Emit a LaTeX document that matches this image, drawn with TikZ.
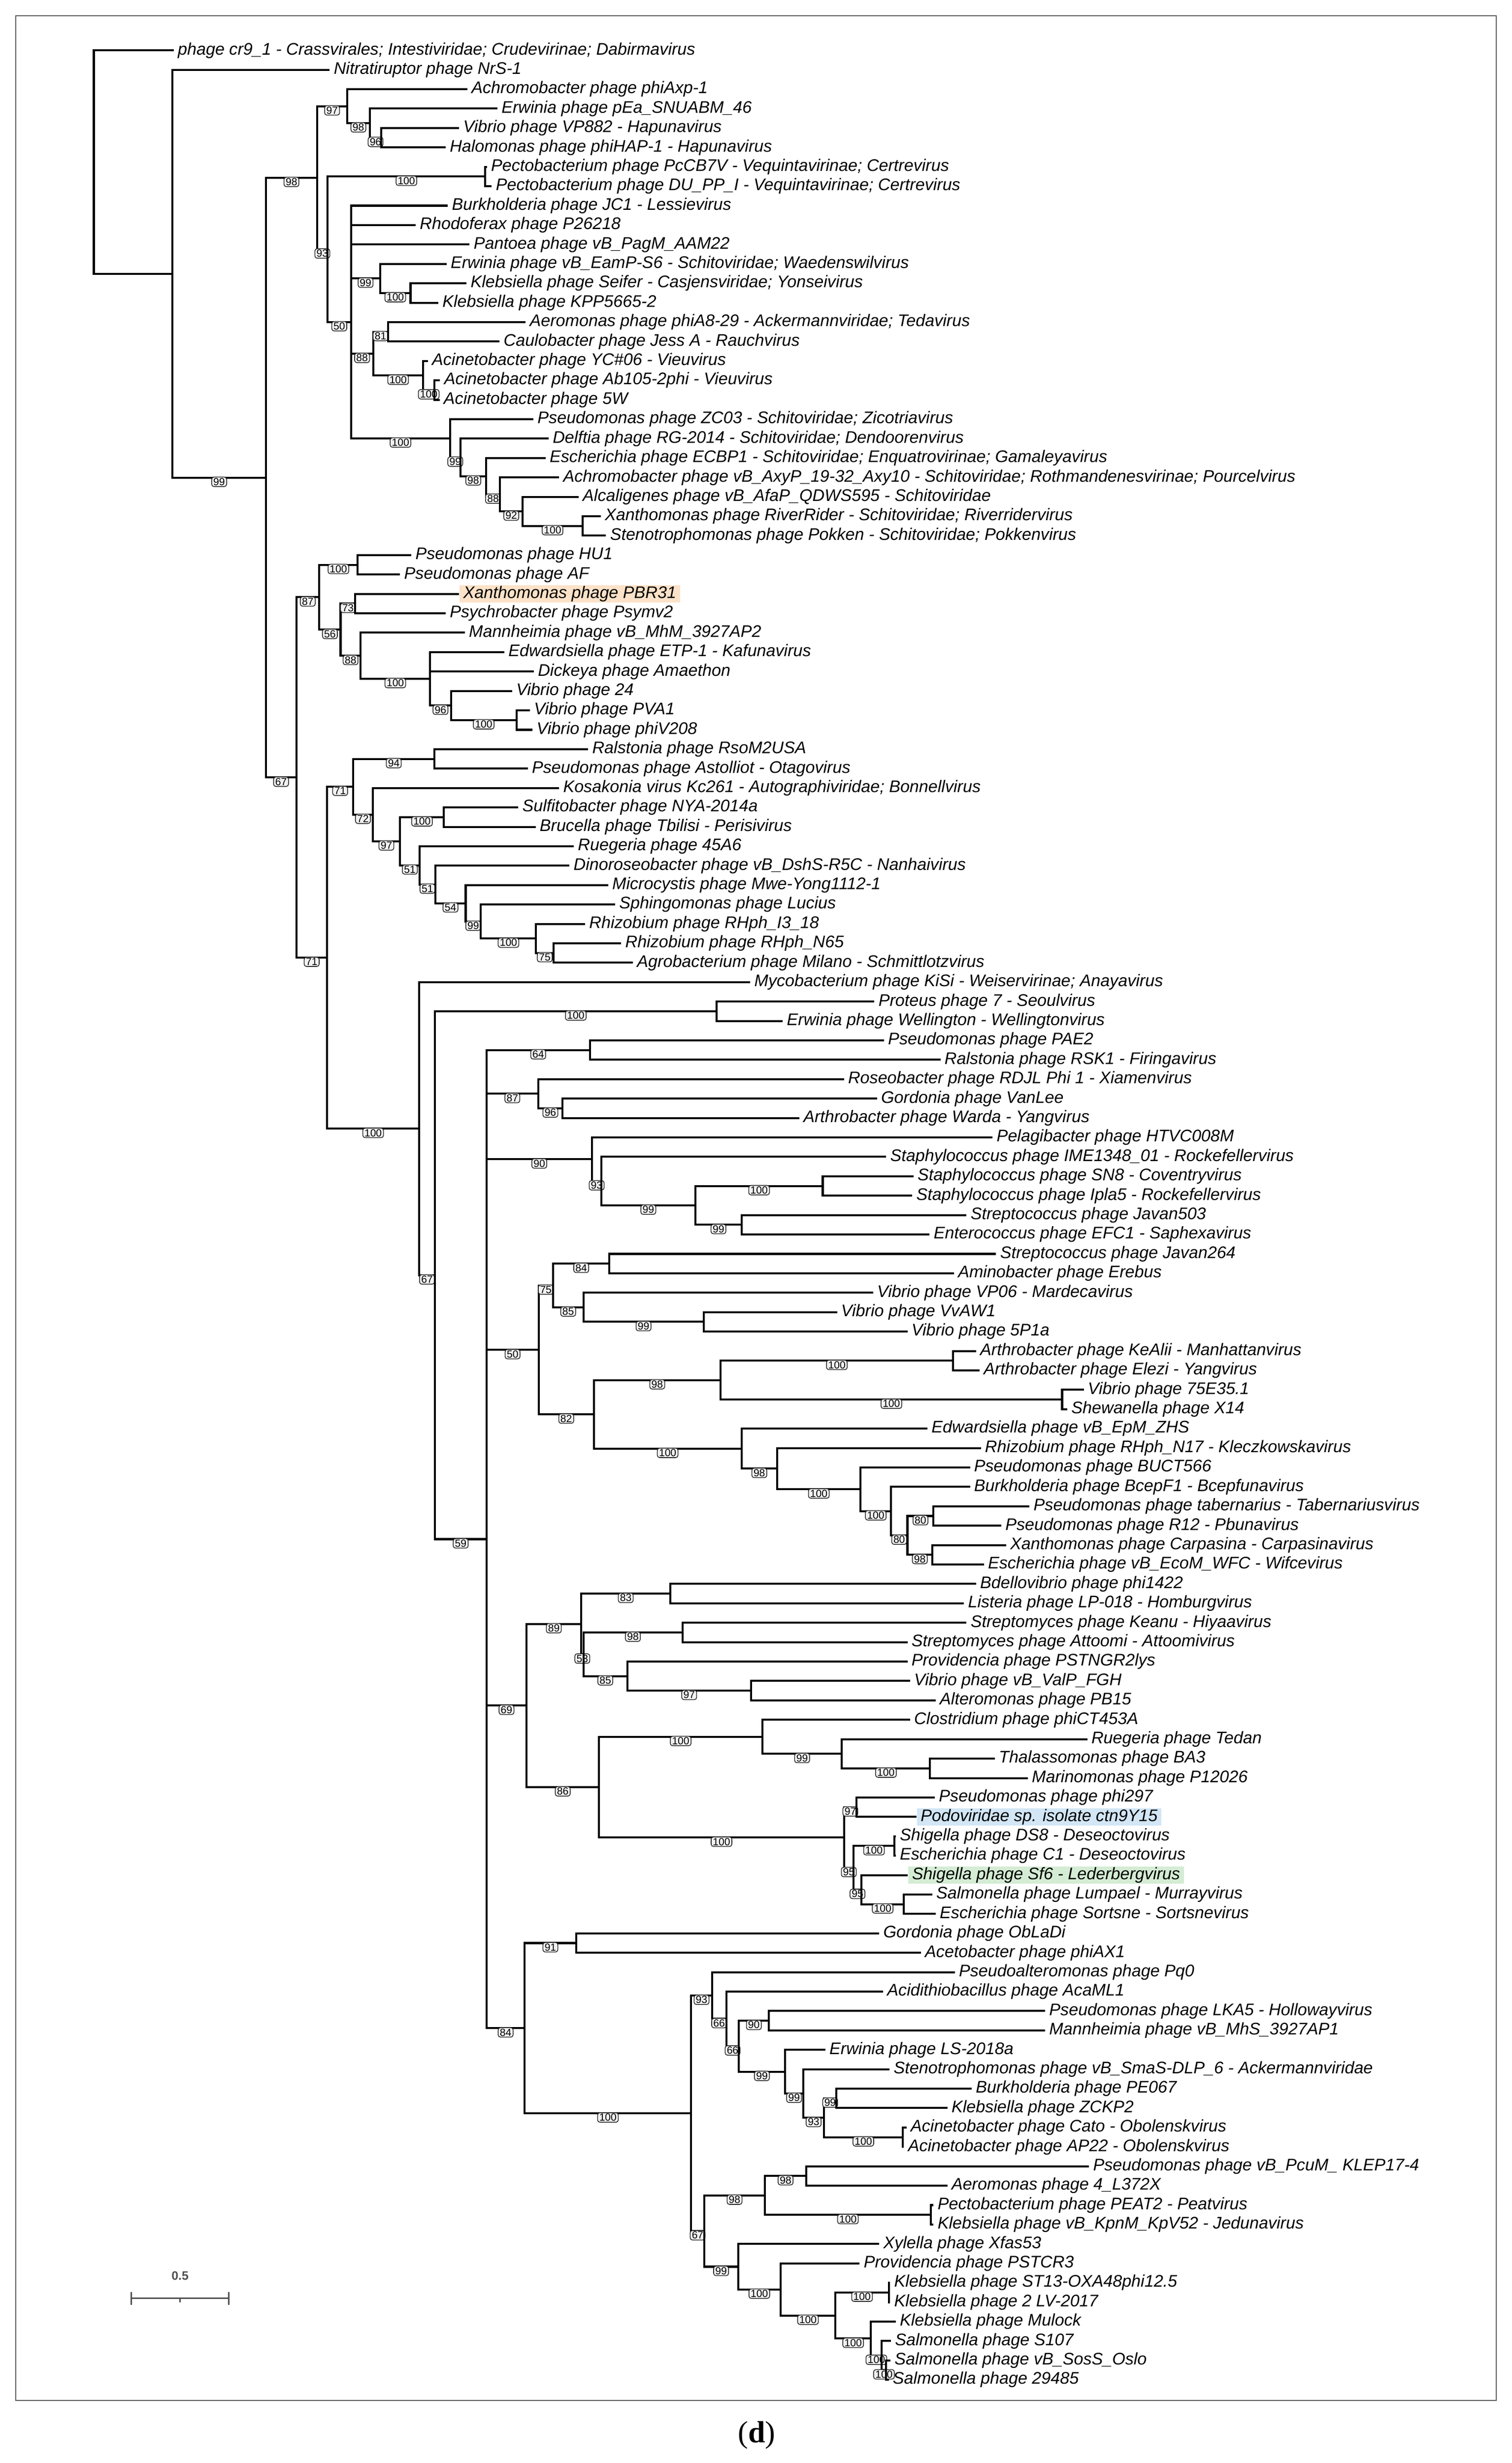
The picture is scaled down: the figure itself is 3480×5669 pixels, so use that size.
\documentclass[tikz,border=0pt]{standalone}
\usepackage{fontspec}
\setmainfont{Liberation Sans}
\newfontfamily\dfont{Liberation Serif}
\usetikzlibrary{calc}
\definecolor{hlor}{RGB}{252,226,200}
\definecolor{hlbl}{RGB}{210,230,245}
\definecolor{hlgr}{RGB}{212,236,212}
\definecolor{sbgray}{RGB}{80,80,80}
\tikzset{
 br/.style={line width=1.3pt,line join=miter},
 lab/.style={anchor=west,inner xsep=2.5pt,inner ysep=0.5pt,font=\fontsize{11}{11.5}\selectfont\itshape},
 boot/.style={pos=0.75,anchor=north,yshift=0.6pt,draw=black!85,line width=0.5pt,fill=gray!10,rounded corners=1.5pt,inner xsep=1.1pt,inner ysep=0.7pt,font=\fontsize{6.8}{7}\selectfont}
}
\newcommand\mylf[3]{\coordinate (L#1) at (#2,{115.9+(#1-1)*44.68}); \node[lab] at (L#1) {#3};}
\newcommand\mylfh[4]{\coordinate (L#1) at (#2,{115.9+(#1-1)*44.68}); \node[lab,fill=#3] at (L#1) {#4};}
\newcommand\myin[4]{\coordinate (tmpc) at ($(#3)!0.5!(#4)$); \coordinate (#1) at ($(#2,0)!(tmpc)!(#2,100)$);}
\newcommand\mykid[3]{\draw[br] (#1) |- node[boot]{#3} (#2);}
\newcommand\mykidn[2]{\draw[br] (#1) |- (#2);}
\begin{document}
\begin{tikzpicture}[x=0.01cm,y=-0.01cm]
\useasboundingbox (0,0) rectangle (3480,5669);
\fill[white] (0,0) rectangle (3480,5669);
\draw[line width=0.6pt,gray!70!black] (36,36) rectangle (3444,5525);
\node[font=\dfont\fontsize{20}{22}\selectfont] (cap) at (1742,5605) {(\textbf{d})};
% leaves
\mylf{1}{400}{phage cr9\_1 - Crassvirales; Intestiviridae; Crudevirinae; Dabirmavirus}
\mylf{2}{759}{Nitratiruptor phage NrS-1}
\mylf{3}{1076}{Achromobacter phage phiAxp-1}
\mylf{4}{1145}{Erwinia phage pEa\_SNUABM\_46}
\mylf{5}{1057}{Vibrio phage VP882 - Hapunavirus}
\mylf{6}{1026}{Halomonas phage phiHAP-1 - Hapunavirus}
\mylf{7}{1121}{Pectobacterium phage PcCB7V - Vequintavirinae; Certrevirus}
\mylf{8}{1132}{Pectobacterium phage DU\_PP\_I - Vequintavirinae; Certrevirus}
\mylf{9}{1031}{Burkholderia phage JC1 - Lessievirus}
\mylf{10}{957}{Rhodoferax phage P26218}
\mylf{11}{1081}{Pantoea phage vB\_PagM\_AAM22}
\mylf{12}{1028}{Erwinia phage vB\_EamP-S6 - Schitoviridae; Waedenswilvirus}
\mylf{13}{1074}{Klebsiella phage Seifer - Casjensviridae; Yonseivirus}
\mylf{14}{1009}{Klebsiella phage KPP5665-2}
\mylf{15}{1210}{Aeromonas phage phiA8-29 - Ackermannviridae; Tedavirus}
\mylf{16}{1150}{Caulobacter phage Jess A - Rauchvirus}
\mylf{17}{985}{Acinetobacter phage YC\#06 - Vieuvirus}
\mylf{18}{1013}{Acinetobacter phage Ab105-2phi - Vieuvirus}
\mylf{19}{1012}{Acinetobacter phage 5W}
\mylf{20}{1228}{Pseudomonas phage ZC03 - Schitoviridae; Zicotriavirus}
\mylf{21}{1263}{Delftia phage RG-2014 - Schitoviridae; Dendoorenvirus}
\mylf{22}{1256}{Escherichia phage ECBP1 - Schitoviridae; Enquatrovirinae; Gamaleyavirus}
\mylf{23}{1287}{Achromobacter phage vB\_AxyP\_19-32\_Axy10 - Schitoviridae; Rothmandenesvirinae; Pourcelvirus}
\mylf{24}{1332}{Alcaligenes phage vB\_AfaP\_QDWS595 - Schitoviridae}
\mylf{25}{1383}{Xanthomonas phage RiverRider - Schitoviridae; Riverridervirus}
\mylf{26}{1395}{Stenotrophomonas phage Pokken - Schitoviridae; Pokkenvirus}
\mylf{27}{947}{Pseudomonas phage HU1}
\mylf{28}{921}{Pseudomonas phage AF}
\mylfh{29}{1057}{hlor}{Xanthomonas phage PBR31}
\mylf{30}{1026}{Psychrobacter phage Psymv2}
\mylf{31}{1070}{Mannheimia phage vB\_MhM\_3927AP2}
\mylf{32}{1161}{Edwardsiella phage ETP-1 - Kafunavirus}
\mylf{33}{1229}{Dickeya phage Amaethon}
\mylf{34}{1179}{Vibrio phage 24}
\mylf{35}{1220}{Vibrio phage PVA1}
\mylf{36}{1226}{Vibrio phage phiV208}
\mylf{37}{1354}{Ralstonia phage RsoM2USA}
\mylf{38}{1215}{Pseudomonas phage Astolliot - Otagovirus}
\mylf{39}{1287}{Kosakonia virus Kc261 - Autographiviridae; Bonnellvirus}
\mylf{40}{1193}{Sulfitobacter phage NYA-2014a}
\mylf{41}{1233}{Brucella phage Tbilisi - Perisivirus}
\mylf{42}{1321}{Ruegeria phage 45A6}
\mylf{43}{1311}{Dinoroseobacter phage vB\_DshS-R5C - Nanhaivirus}
\mylf{44}{1400}{Microcystis phage Mwe-Yong1112-1}
\mylf{45}{1416}{Sphingomonas phage Lucius}
\mylf{46}{1347}{Rhizobium phage RHph\_I3\_18}
\mylf{47}{1430}{Rhizobium phage RHph\_N65}
\mylf{48}{1457}{Agrobacterium phage Milano - Schmittlotzvirus}
\mylf{49}{1727}{Mycobacterium phage KiSi - Weiservirinae; Anayavirus}
\mylf{50}{2013}{Proteus phage 7 - Seoulvirus}
\mylf{51}{1802}{Erwinia phage Wellington - Wellingtonvirus}
\mylf{52}{2035}{Pseudomonas phage PAE2}
\mylf{53}{2165}{Ralstonia phage RSK1 - Firingavirus}
\mylf{54}{1943}{Roseobacter phage RDJL Phi 1 - Xiamenvirus}
\mylf{55}{2019}{Gordonia phage VanLee}
\mylf{56}{1840}{Arthrobacter phage Warda - Yangvirus}
\mylf{57}{2285}{Pelagibacter phage HTVC008M}
\mylf{58}{2040}{Staphylococcus phage IME1348\_01 - Rockefellervirus}
\mylf{59}{2103}{Staphylococcus phage SN8 - Coventryvirus}
\mylf{60}{2100}{Staphylococcus phage Ipla5 - Rockefellervirus}
\mylf{61}{2225}{Streptococcus phage Javan503}
\mylf{62}{2140}{Enterococcus phage EFC1 - Saphexavirus}
\mylf{63}{2293}{Streptococcus phage Javan264}
\mylf{64}{2196}{Aminobacter phage Erebus}
\mylf{65}{2010}{Vibrio phage VP06 - Mardecavirus}
\mylf{66}{1927}{Vibrio phage VvAW1}
\mylf{67}{2089}{Vibrio phage 5P1a}
\mylf{68}{2247}{Arthrobacter phage KeAlii - Manhattanvirus}
\mylf{69}{2255}{Arthrobacter phage Elezi - Yangvirus}
\mylf{70}{2495}{Vibrio phage 75E35.1}
\mylf{71}{2457}{Shewanella phage X14}
\mylf{72}{2135}{Edwardsiella phage vB\_EpM\_ZHS}
\mylf{73}{2258}{Rhizobium phage RHph\_N17 - Kleczkowskavirus}
\mylf{74}{2233}{Pseudomonas phage BUCT566}
\mylf{75}{2233}{Burkholderia phage BcepF1 - Bcepfunavirus}
\mylf{76}{2370}{Pseudomonas phage tabernarius - Tabernariusvirus}
\mylf{77}{2305}{Pseudomonas phage R12 - Pbunavirus}
\mylf{78}{2316}{Xanthomonas phage Carpasina - Carpasinavirus}
\mylf{79}{2265}{Escherichia phage vB\_EcoM\_WFC - Wifcevirus}
\mylf{80}{2247}{Bdellovibrio phage phi1422}
\mylf{81}{2219}{Listeria phage LP-018 - Homburgvirus}
\mylf{82}{2225}{Streptomyces phage Keanu - Hiyaavirus}
\mylf{83}{2089}{Streptomyces phage Attoomi - Attoomivirus}
\mylf{84}{2089}{Providencia phage PSTNGR2lys}
\mylf{85}{2095}{Vibrio phage vB\_ValP\_FGH}
\mylf{86}{2154}{Alteromonas phage PB15}
\mylf{87}{2095}{Clostridium phage phiCT453A}
\mylf{88}{2503}{Ruegeria phage Tedan}
\mylf{89}{2290}{Thalassomonas phage BA3}
\mylf{90}{2366}{Marinomonas phage P12026}
\mylf{91}{2152}{Pseudomonas phage phi297}
\mylfh{92}{2110}{hlbl}{Podoviridae sp. isolate ctn9Y15}
\mylf{93}{2062}{Shigella phage DS8 - Deseoctovirus}
\mylf{94}{2062}{Escherichia phage C1 - Deseoctovirus}
\mylfh{95}{2090}{hlgr}{Shigella phage Sf6 - Lederbergvirus}
\mylf{96}{2146}{Salmonella phage Lumpael - Murrayvirus}
\mylf{97}{2154}{Escherichia phage Sortsne - Sortsnevirus}
\mylf{98}{2024}{Gordonia phage ObLaDi}
\mylf{99}{2120}{Acetobacter phage phiAX1}
\mylf{100}{2198}{Pseudoalteromonas phage Pq0}
\mylf{101}{2033}{Acidithiobacillus phage AcaML1}
\mylf{102}{2406}{Pseudomonas phage LKA5 - Hollowayvirus}
\mylf{103}{2406}{Mannheimia phage vB\_MhS\_3927AP1}
\mylf{104}{1900}{Erwinia phage LS-2018a}
\mylf{105}{2048}{Stenotrophomonas phage vB\_SmaS-DLP\_6 - Ackermannviridae}
\mylf{106}{2237}{Burkholderia phage PE067}
\mylf{107}{2181}{Klebsiella phage ZCKP2}
\mylf{108}{2087}{Acinetobacter phage Cato - Obolenskvirus}
\mylf{109}{2081}{Acinetobacter phage AP22 - Obolenskvirus}
\mylf{110}{2507}{Pseudomonas phage vB\_PcuM\_ KLEP17-4}
\mylf{111}{2181}{Aeromonas phage 4\_L372X}
\mylf{112}{2149}{Pectobacterium phage PEAT2 - Peatvirus}
\mylf{113}{2149}{Klebsiella phage vB\_KpnM\_KpV52 - Jedunavirus}
\mylf{114}{2024}{Xylella phage Xfas53}
\mylf{115}{1979}{Providencia phage PSTCR3}
\mylf{116}{2049}{Klebsiella phage ST13-OXA48phi12.5}
\mylf{117}{2049}{Klebsiella phage 2 LV-2017}
\mylf{118}{2062}{Klebsiella phage Mulock}
\mylf{119}{2051}{Salmonella phage S107}
\mylf{120}{2050}{Salmonella phage vB\_SosS\_Oslo}
\mylf{121}{2046}{Salmonella phage 29485}
% internal nodes (top clade)
\myin{n96a}{878}{L5}{L6}
\myin{n98a}{851}{L4}{n96a}
\myin{n97a}{799}{L3}{n98a}
\myin{nPec}{1117}{L7}{L8}
\myin{n100Kl}{945}{L13}{L14}
\myin{n99Er}{875}{L12}{n100Kl}
\myin{n81}{893}{L15}{L16}
\myin{n100AcB}{1000}{L18}{L19}
\myin{n100Ac}{974}{L17}{n100AcB}
\myin{n88a}{859}{n81}{n100Ac}
\myin{n100RR}{1341}{L25}{L26}
\myin{n92}{1203}{L24}{n100RR}
\myin{n88b}{1151}{L23}{n92}
\myin{n98b}{1119}{L22}{n88b}
\myin{n99b}{1060}{L21}{n98b}
\myin{n100ZC}{1036}{L20}{n99b}
\myin{n50a}{808}{L9}{n100ZC}
\myin{n93a}{754}{nPec}{n50a}
\myin{nC}{730}{n97a}{n93a}
% middle
\myin{nHU}{823}{L27}{L28}
\myin{n73}{818}{L29}{L30}
\myin{n100V}{1189}{L35}{L36}
\myin{n96V}{1038}{L34}{n100V}
\myin{n100E}{990}{L32}{n96V}
\myin{n88c}{830}{L31}{n100E}
\myin{n56}{784}{n73}{n88c}
\myin{n87}{735}{nHU}{n56}
\myin{n94}{1000}{L37}{L38}
\myin{n75R}{1274}{L47}{L48}
\myin{n100R}{1234}{L46}{n75R}
\myin{n99R}{1107}{L45}{n100R}
\myin{n54}{1072}{L44}{n99R}
\myin{n51b}{1002}{L43}{n54}
\myin{n51a}{966}{L42}{n51b}
\myin{n100S}{1022}{L40}{L41}
\myin{n97R}{921}{n100S}{n51a}
\myin{n72}{858}{L39}{n97R}
\myin{n71b}{813}{n94}{n72}
% big clade
\myin{nP}{1650}{L50}{L51}
\myin{n64}{1358}{L52}{L53}
\myin{n96G}{1295}{L55}{L56}
\myin{n87G}{1239}{L54}{n96G}
\myin{n100St}{1894}{L59}{L60}
\myin{n99StB}{1707}{L61}{L62}
\myin{n99St}{1601}{n100St}{n99StB}
\myin{n93St}{1384}{L58}{n99St}
\myin{n90}{1363}{L57}{n93St}
\myin{n84}{1403}{L63}{L64}
\myin{n99Vb}{1620}{L66}{L67}
\myin{n85V}{1343}{L65}{n99Vb}
\myin{n75V}{1273}{n84}{n85V}
\myin{n100Ar}{2194}{L68}{L69}
\myin{n100Sh}{2445}{L70}{L71}
\myin{n98Ar}{1659}{n100Ar}{n100Sh}
\myin{n80b}{2149}{L76}{L77}
\myin{n98W}{2146}{L78}{L79}
\myin{n80a}{2089}{n80b}{n98W}
\myin{n100Bc}{2051}{L75}{n80a}
\myin{n100Bu}{1981}{L74}{n100Bc}
\myin{n98Rh}{1789}{L73}{n100Bu}
\myin{n100Ed}{1707}{L72}{n98Rh}
\myin{n82}{1367}{n98Ar}{n100Ed}
\myin{n50G}{1240}{n75V}{n82}
\myin{n83}{1543}{L80}{L81}
\myin{n98Sm}{1571}{L82}{L83}
\myin{n97Vb}{1729}{L85}{L86}
\myin{n85Pr}{1444}{L84}{n97Vb}
\myin{n53}{1343}{n98Sm}{n85Pr}
\myin{n89}{1338}{n83}{n53}
\myin{n100Th}{2141}{L89}{L90}
\myin{n99Ru}{1938}{L88}{n100Th}
\myin{n100Cl}{1755}{L87}{n99Ru}
\myin{n97P}{1972}{L91}{L92}
\myin{n100DS}{2059}{L93}{L94}
\myin{n100Sa}{2081}{L96}{L97}
\myin{n95b}{1983}{L95}{n100Sa}
\myin{n95a}{1965}{n100DS}{n95b}
\myin{n100Po}{1943}{n97P}{n95a}
\myin{n86}{1379}{n100Cl}{n100Po}
\myin{n69}{1212}{n89}{n86}
\myin{n91}{1326}{L98}{L99}
\myin{n90L}{1770}{L102}{L103}
\myin{n100AcC}{2078}{L108}{L109}
\myin{n99Bu}{1925}{L106}{L107}
\myin{n93Bu}{1897}{n99Bu}{n100AcC}
\myin{n99Sn}{1849}{L105}{n93Bu}
\myin{n99ErB}{1807}{L104}{n99Sn}
\myin{n66b}{1701}{n90L}{n99ErB}
\myin{n66a}{1672}{L101}{n66b}
\myin{n93H}{1639}{L100}{n66a}
\myin{n98Ps}{1856}{L110}{L111}
\myin{n100Pe}{2143}{L112}{L113}
\myin{n98Ae}{1761}{n98Ps}{n100Pe}
\myin{n100f}{2040}{L120}{L121}
\myin{n100e}{2030}{L119}{n100f}
\myin{n100d}{2005}{L118}{n100e}
\myin{n100c}{2046}{L116}{L117}
\myin{n100b}{1923}{n100c}{n100d}
\myin{n100Pv}{1797}{L115}{n100b}
\myin{n99X}{1699}{L114}{n100Pv}
\myin{n67H}{1621}{n98Ae}{n99X}
\myin{nH}{1591}{n93H}{n67H}
\myin{n84G}{1208}{n91}{nH}
\myin{nG}{1120}{n64}{n84G}
\myin{nF}{1001}{nP}{nG}
\myin{nE}{965}{L49}{nF}
\myin{nD71}{753}{n71b}{nE}
\myin{nD}{682}{n87}{nD71}
\myin{nB}{612}{nC}{nD}
\myin{nA}{397}{L2}{nB}
\myin{root}{216}{L1}{nA}
% edges
\mykidn{root}{L1}\mykidn{root}{nA}
\mykidn{nA}{L2}\mykid{nA}{nB}{99}
\mykid{nB}{nC}{98}\mykid{nB}{nD}{67}
\mykid{nC}{n97a}{97}\mykid{nC}{n93a}{93}
\mykidn{n97a}{L3}\mykid{n97a}{n98a}{98}
\mykidn{n98a}{L4}\mykid{n98a}{n96a}{96}
\mykidn{n96a}{L5}\mykidn{n96a}{L6}
\mykid{n93a}{nPec}{100}\mykid{n93a}{n50a}{50}
\mykidn{nPec}{L7}\mykidn{nPec}{L8}
\mykidn{n50a}{L9}\mykidn{n50a}{L10}\mykidn{n50a}{L11}
\mykid{n50a}{n99Er}{99}\mykid{n50a}{n88a}{88}\mykid{n50a}{n100ZC}{100}
\mykidn{n99Er}{L12}\mykid{n99Er}{n100Kl}{100}
\mykidn{n100Kl}{L13}\mykidn{n100Kl}{L14}
\mykid{n88a}{n81}{81}\mykid{n88a}{n100Ac}{100}
\mykidn{n81}{L15}\mykidn{n81}{L16}
\mykidn{n100Ac}{L17}\mykid{n100Ac}{n100AcB}{100}
\mykidn{n100AcB}{L18}\mykidn{n100AcB}{L19}
\mykidn{n100ZC}{L20}\mykid{n100ZC}{n99b}{99}
\mykidn{n99b}{L21}\mykid{n99b}{n98b}{98}
\mykidn{n98b}{L22}\mykid{n98b}{n88b}{88}
\mykidn{n88b}{L23}\mykid{n88b}{n92}{92}
\mykidn{n92}{L24}\mykid{n92}{n100RR}{100}
\mykidn{n100RR}{L25}\mykidn{n100RR}{L26}
\mykid{nD}{n87}{87}\mykid{nD}{nD71}{71}
\mykid{n87}{nHU}{100}\mykid{n87}{n56}{56}
\mykidn{nHU}{L27}\mykidn{nHU}{L28}
\mykid{n56}{n73}{73}\mykid{n56}{n88c}{88}
\mykidn{n73}{L29}\mykidn{n73}{L30}
\mykidn{n88c}{L31}\mykid{n88c}{n100E}{100}
\mykidn{n100E}{L32}\mykidn{n100E}{L33}\mykid{n100E}{n96V}{96}
\mykidn{n96V}{L34}\mykid{n96V}{n100V}{100}
\mykidn{n100V}{L35}\mykidn{n100V}{L36}
\mykid{nD71}{n71b}{71}\mykid{nD71}{nE}{100}
\mykid{n71b}{n94}{94}\mykid{n71b}{n72}{72}
\mykidn{n94}{L37}\mykidn{n94}{L38}
\mykidn{n72}{L39}\mykid{n72}{n97R}{97}
\mykid{n97R}{n100S}{100}\mykid{n97R}{n51a}{51}
\mykidn{n100S}{L40}\mykidn{n100S}{L41}
\mykidn{n51a}{L42}\mykid{n51a}{n51b}{51}
\mykidn{n51b}{L43}\mykid{n51b}{n54}{54}
\mykidn{n54}{L44}\mykid{n54}{n99R}{99}
\mykidn{n99R}{L45}\mykid{n99R}{n100R}{100}
\mykidn{n100R}{L46}\mykid{n100R}{n75R}{75}
\mykidn{n75R}{L47}\mykidn{n75R}{L48}
\mykidn{nE}{L49}\mykid{nE}{nF}{67}
\mykid{nF}{nP}{100}\mykid{nF}{nG}{59}
\mykidn{nP}{L50}\mykidn{nP}{L51}
\mykid{nG}{n64}{64}\mykid{nG}{n87G}{87}\mykid{nG}{n90}{90}\mykid{nG}{n50G}{50}\mykid{nG}{n69}{69}\mykid{nG}{n84G}{84}
\mykidn{n64}{L52}\mykidn{n64}{L53}
\mykidn{n87G}{L54}\mykid{n87G}{n96G}{96}
\mykidn{n96G}{L55}\mykidn{n96G}{L56}
\mykidn{n90}{L57}\mykid{n90}{n93St}{93}
\mykidn{n93St}{L58}\mykid{n93St}{n99St}{99}
\mykid{n99St}{n100St}{100}\mykid{n99St}{n99StB}{99}
\mykidn{n100St}{L59}\mykidn{n100St}{L60}
\mykidn{n99StB}{L61}\mykidn{n99StB}{L62}
\mykid{n50G}{n75V}{75}\mykid{n50G}{n82}{82}
\mykid{n75V}{n84}{84}\mykid{n75V}{n85V}{85}
\mykidn{n84}{L63}\mykidn{n84}{L64}
\mykidn{n85V}{L65}\mykid{n85V}{n99Vb}{99}
\mykidn{n99Vb}{L66}\mykidn{n99Vb}{L67}
\mykid{n82}{n98Ar}{98}\mykid{n82}{n100Ed}{100}
\mykid{n98Ar}{n100Ar}{100}\mykid{n98Ar}{n100Sh}{100}
\mykidn{n100Ar}{L68}\mykidn{n100Ar}{L69}
\mykidn{n100Sh}{L70}\mykidn{n100Sh}{L71}
\mykidn{n100Ed}{L72}\mykid{n100Ed}{n98Rh}{98}
\mykidn{n98Rh}{L73}\mykid{n98Rh}{n100Bu}{100}
\mykidn{n100Bu}{L74}\mykid{n100Bu}{n100Bc}{100}
\mykidn{n100Bc}{L75}\mykid{n100Bc}{n80a}{80}
\mykid{n80a}{n80b}{80}\mykid{n80a}{n98W}{98}
\mykidn{n80b}{L76}\mykidn{n80b}{L77}
\mykidn{n98W}{L78}\mykidn{n98W}{L79}
\mykid{n69}{n89}{89}\mykid{n69}{n86}{86}
\mykid{n89}{n83}{83}\mykid{n89}{n53}{53}
\mykidn{n83}{L80}\mykidn{n83}{L81}
\mykid{n53}{n98Sm}{98}\mykid{n53}{n85Pr}{85}
\mykidn{n98Sm}{L82}\mykidn{n98Sm}{L83}
\mykidn{n85Pr}{L84}\mykid{n85Pr}{n97Vb}{97}
\mykidn{n97Vb}{L85}\mykidn{n97Vb}{L86}
\mykid{n86}{n100Cl}{100}\mykid{n86}{n100Po}{100}
\mykidn{n100Cl}{L87}\mykid{n100Cl}{n99Ru}{99}
\mykidn{n99Ru}{L88}\mykid{n99Ru}{n100Th}{100}
\mykidn{n100Th}{L89}\mykidn{n100Th}{L90}
\mykid{n100Po}{n97P}{97}\mykid{n100Po}{n95a}{95}
\mykidn{n97P}{L91}\mykidn{n97P}{L92}
\mykid{n95a}{n100DS}{100}\mykid{n95a}{n95b}{95}
\mykidn{n100DS}{L93}\mykidn{n100DS}{L94}
\mykidn{n95b}{L95}\mykid{n95b}{n100Sa}{100}
\mykidn{n100Sa}{L96}\mykidn{n100Sa}{L97}
\mykid{n84G}{n91}{91}\mykid{n84G}{nH}{100}
\mykidn{n91}{L98}\mykidn{n91}{L99}
\mykid{nH}{n93H}{93}\mykid{nH}{n67H}{67}
\mykidn{n93H}{L100}\mykid{n93H}{n66a}{66}
\mykidn{n66a}{L101}\mykid{n66a}{n66b}{66}
\mykid{n66b}{n90L}{90}\mykid{n66b}{n99ErB}{99}
\mykidn{n90L}{L102}\mykidn{n90L}{L103}
\mykidn{n99ErB}{L104}\mykid{n99ErB}{n99Sn}{99}
\mykidn{n99Sn}{L105}\mykid{n99Sn}{n93Bu}{93}
\mykid{n93Bu}{n99Bu}{99}\mykid{n93Bu}{n100AcC}{100}
\mykidn{n99Bu}{L106}\mykidn{n99Bu}{L107}
\mykidn{n100AcC}{L108}\mykidn{n100AcC}{L109}
\mykid{n67H}{n98Ae}{98}\mykid{n67H}{n99X}{99}
\mykid{n98Ae}{n98Ps}{98}\mykid{n98Ae}{n100Pe}{100}
\mykidn{n98Ps}{L110}\mykidn{n98Ps}{L111}
\mykidn{n100Pe}{L112}\mykidn{n100Pe}{L113}
\mykidn{n99X}{L114}\mykid{n99X}{n100Pv}{100}
\mykidn{n100Pv}{L115}\mykid{n100Pv}{n100b}{100}
\mykid{n100b}{n100c}{100}\mykid{n100b}{n100d}{100}
\mykidn{n100c}{L116}\mykidn{n100c}{L117}
\mykidn{n100d}{L118}\mykid{n100d}{n100e}{100}
\mykidn{n100e}{L119}\mykid{n100e}{n100f}{100}
\mykidn{n100f}{L120}\mykidn{n100f}{L121}
% scale bar
\coordinate (sbA) at (302,5290);
\coordinate (sbB) at (527,5290);
\draw[line width=1pt,sbgray] (sbA) -- (sbB);
\draw[line width=1pt,sbgray] ($(sbA)+(0,-15)$) -- ($(sbA)+(0,15)$) ($(sbB)+(0,-15)$) -- ($(sbB)+(0,15)$);
\draw[line width=0.8pt,sbgray] ($(sbA)!0.5!(sbB)$) -- ++(0,9);
\node[font=\fontsize{8}{9}\selectfont\bfseries,text=sbgray,anchor=south] (sbl) at ($(sbA)!0.5!(sbB)+(0,-30)$) {0.5};
\end{tikzpicture}
\end{document}
